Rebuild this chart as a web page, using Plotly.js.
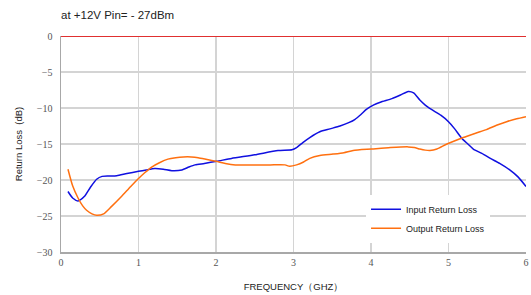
<!DOCTYPE html>
<html><head><meta charset="utf-8">
<script src="https://cdn.plot.ly/plotly-3.0.1.min.js"></script>
<style>html,body{margin:0;padding:0;background:#fff}#chart{width:531px;height:295px}</style>
</head><body><div id="chart"></div>
<script>
const inputFreq = [0.09,0.15,0.22,0.3,0.38,0.46,0.53,0.62,0.72,0.85,1.0,1.1,1.21,1.32,1.43,1.56,1.65,1.73,1.85,2.01,2.2,2.5,2.8,2.98,3.04,3.12,3.21,3.34,3.47,3.6,3.72,3.79,3.87,3.94,4.03,4.12,4.27,4.38,4.48,4.55,4.63,4.7,4.78,4.9,5.0,5.08,5.17,5.25,5.32,5.43,5.54,5.66,5.79,5.9,6.0];
const inputLoss = [-21.6,-22.5,-22.9,-22.3,-21.0,-19.9,-19.5,-19.45,-19.4,-19.1,-18.8,-18.6,-18.4,-18.5,-18.7,-18.6,-18.2,-17.9,-17.7,-17.4,-17.0,-16.5,-15.9,-15.8,-15.5,-14.8,-14.1,-13.3,-12.9,-12.5,-12.0,-11.6,-10.9,-10.2,-9.6,-9.2,-8.7,-8.2,-7.7,-7.9,-8.9,-9.6,-10.2,-11.0,-11.9,-12.9,-14.2,-15.0,-15.7,-16.3,-17.0,-17.7,-18.6,-19.6,-20.9];
const outputFreq = [0.09,0.15,0.22,0.28,0.33,0.4,0.46,0.55,0.65,0.78,0.9,1.0,1.08,1.17,1.27,1.38,1.48,1.58,1.68,1.77,1.9,2.0,2.12,2.25,2.5,2.7,2.89,2.95,3.04,3.13,3.21,3.34,3.51,3.65,3.77,4.01,4.25,4.48,4.56,4.63,4.7,4.76,4.85,4.98,5.19,5.35,5.49,5.62,5.75,5.88,6.0];
const outputLoss = [-18.5,-20.8,-22.5,-23.6,-24.2,-24.7,-24.9,-24.7,-23.7,-22.3,-20.9,-19.8,-19.0,-18.2,-17.6,-17.1,-16.9,-16.8,-16.8,-16.9,-17.2,-17.4,-17.7,-17.9,-17.9,-17.9,-17.9,-18.1,-17.9,-17.5,-17.0,-16.6,-16.4,-16.2,-15.9,-15.7,-15.5,-15.4,-15.5,-15.7,-15.85,-15.9,-15.7,-15.0,-14.1,-13.5,-13.0,-12.4,-11.9,-11.5,-11.2];
const xTicks = [0,1,2,3,4,5,6];
const yTicks = [0,-5,-10,-15,-20,-25,-30];
const seriesNames = ['Input Return Loss','Output Return Loss'];

const tickFont = {family:'"Liberation Serif", "DejaVu Serif", serif', size:10, color:'#555'};
const sans = '"Liberation Sans", Arial, sans-serif';
const data = [
  {x:inputFreq, y:inputLoss, name:seriesNames[0], mode:'lines', line:{color:'#1010e0', width:1.5, shape:'spline', smoothing:0.6}},
  {x:outputFreq, y:outputLoss, name:seriesNames[1], mode:'lines', line:{color:'#ff7010', width:1.5, shape:'spline', smoothing:0.6}}
];
const layout = {
  width:531, height:295,
  margin:{l:61, r:5, t:36, b:43},
  paper_bgcolor:'#fff', plot_bgcolor:'#fff',
  showlegend:true,
  title:{text:'at +12V Pin= - 27dBm', xref:'paper', x:0, xanchor:'left', yref:'container', y:0.95, yanchor:'middle', font:{family:sans, size:11.5, color:'#222'}},
  xaxis:{range:[0,6], tickvals:xTicks, ticktext:xTicks.map(String), showgrid:true, gridcolor:'#d4d4d4', gridwidth:1.2,
         showline:true, linecolor:'#a8a8a8', linewidth:1.5, zeroline:false, ticks:'', tickfont:tickFont,
         title:{text:'FREQUENCY（GHZ）', font:{family:sans, size:9.5, color:'#222'}, standoff:17}},
  yaxis:{range:[-30,0], tickvals:yTicks, ticktext:yTicks.map(v=>v===0?'0':'\u2212'+Math.abs(v)), showgrid:true, gridcolor:'#d4d4d4', gridwidth:1.2,
         showline:true, linecolor:'#a8a8a8', linewidth:1.5, zeroline:false, ticks:'', tickfont:tickFont, ticklabelstandoff:5,
         title:{text:'Return Loss  (dB)', font:{family:sans, size:9.5, color:'#222'}, standoff:12}},
  legend:{x:0.656, y:0.265, xanchor:'left', yanchor:'top', bgcolor:'#fff', borderwidth:0,
          font:{family:sans, size:9, color:'#222'}, itemwidth:30, tracegroupgap:0},
  shapes:[{type:'line', xref:'paper', x0:0, x1:1, yref:'y', y0:0, y1:0, line:{color:'#e03030', width:2}}]
};
Plotly.newPlot('chart', data, layout, {displayModeBar:false, staticPlot:true});
</script></body></html>
